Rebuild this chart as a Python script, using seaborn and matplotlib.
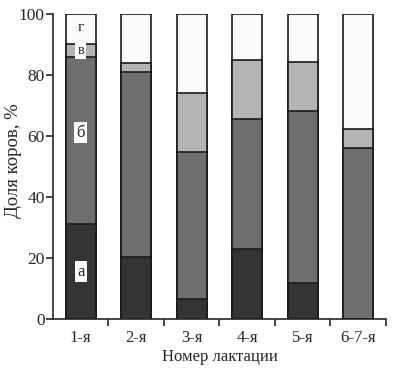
import numpy as np
import pandas as pd
import seaborn as sns
import matplotlib
matplotlib.use("Agg")
from matplotlib import pyplot as plt
from matplotlib.ticker import FixedLocator

# data (percent of cows per group)
lact = ["1-я", "2-я", "3-я", "4-я", "5-я", "6-7-я"]
grp_a = [31.0, 20.4, 6.4, 22.8, 11.9, 0.0]
grp_b = [54.8, 60.6, 48.4, 42.7, 56.3, 56.1]
grp_v = [4.4, 3.0, 19.2, 19.5, 16.1, 6.3]
grp_g = [9.8, 16.0, 26.0, 15.0, 15.7, 37.6]

sns.set_style("ticks")
plt.rcParams["font.family"] = ["Liberation Serif", "DejaVu Serif"]

df = pd.DataFrame({"lact": lact, "a": grp_a, "b": grp_b, "v": grp_v, "g": grp_g})
df["c_a"] = df.a
df["c_b"] = df.c_a + df.b
df["c_v"] = df.c_b + df.v
df["c_g"] = df.c_v + df.g

fig = plt.figure(figsize=(3.94, 3.70), dpi=100)
ax = fig.add_axes([0.1345, 0.138, 0.845, 0.824])

# draw cumulative bars from top to bottom so they stack
layers = [("c_g", "#fafafa"), ("c_v", "#b4b4b4"), ("c_b", "#6e6e6e"), ("c_a", "#343434")]
for col, clr in layers:
    sns.barplot(data=df, x="lact", y=col, order=lact, color=clr, width=0.54,
                edgecolor="#1a1a1a", linewidth=1.2, saturation=1, ax=ax)

ax.set_xlim(-0.5, 5.5)
ax.set_ylim(0, 100)
ax.set_yticks([0, 20, 40, 60, 80, 100])
ax.tick_params(axis="y", direction="out", length=5, width=1.2, labelsize=12.5, pad=1)
ax.tick_params(axis="x", which="major", length=0, labelsize=12, pad=8)
ax.xaxis.set_minor_locator(FixedLocator(np.arange(0.5, 6, 1)))
ax.tick_params(axis="x", which="minor", direction="out", length=5, width=1.2)
for s in ["top", "right"]:
    ax.spines[s].set_visible(False)
for s in ["left", "bottom"]:
    ax.spines[s].set_linewidth(1.2)

ax.set_xlabel("Номер лактации", fontsize=12, labelpad=2)
ax.set_ylabel("Доля коров, %", fontsize=13.5)
ax.yaxis.set_label_coords(-0.092, 0.518)

# letters on the first bar
box = dict(boxstyle="square,pad=0.15", fc="white", ec="none")
ax.text(0, 15.5, "а", ha="center", va="center", fontsize=12, bbox=box)
ax.text(0, 61, "б", ha="center", va="center", fontsize=12, bbox=box)
ax.text(0, 88.2, "в", ha="center", va="center", fontsize=10.5, bbox=box)
ax.text(0, 95.5, "г", ha="center", va="center", fontsize=11)

fig.savefig("out.png", dpi=100)
